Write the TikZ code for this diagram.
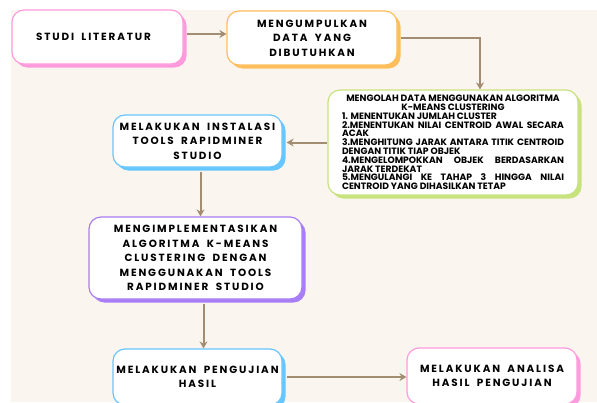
\documentclass[tikz,border=0pt]{standalone}
\usepackage{fontspec}
\setmainfont{Poppins}
\newfontfamily\wideboxfont{Poppins}[LetterSpace=18,WordSpace=1.8]
\newfontfamily\listfont{Poppins}
\usetikzlibrary{arrows.meta,shadows}

\definecolor{bgcream}{HTML}{FAF5EF}
\definecolor{pinkline}{HTML}{FF9BDC}
\definecolor{orangeline}{HTML}{FFBE5C}
\definecolor{greenline}{HTML}{C8E27E}
\definecolor{blueline}{HTML}{66C6FF}
\definecolor{purpleline}{HTML}{A87DF5}
\definecolor{arrowbrown}{HTML}{A38D72}

\tikzset{
  flowbox/.style={draw=#1, line width=1.2pt, fill=white, rounded corners=12pt,
    drop shadow={shadow xshift=3.5pt, shadow yshift=-3.5pt, fill=#1, opacity=1},
    font=\wideboxfont\bfseries\fontsize{10.4}{14.5}\selectfont,
    align=center, inner sep=0pt},
  flowarrow/.style={draw=arrowbrown, line width=2pt,
    -{Stealth[length=7pt,width=8pt]}}
}

\begin{document}
\begin{tikzpicture}[x=1pt, y=-1pt]
   \useasboundingbox (0,0) rectangle (597,402);
   \fill[bgcream] (11,10) rectangle (597,402);

   \begin{scope}
   \clip (0,0) rectangle (597,402);
   \node[flowbox=pinkline, minimum width=171pt, minimum height=54pt] (studi) at (97.5,37) {STUDI LITERATUR\hspace*{8pt}};
   \node[flowbox=orangeline, minimum width=170pt, minimum height=54pt] (kumpul) at (312,38) {MENGUMPULKAN\\DATA YANG\\DIBUTUHKAN};
   \node[flowbox=greenline, minimum width=250pt, minimum height=105pt,
         font=\listfont\bfseries\fontsize{9.2}{8.8}\selectfont, text width=222pt, align=justify] (olah) at (453,142.5)
     {{\centering MENGOLAH DATA MENGGUNAKAN ALGORITMA\\ K-MEANS CLUSTERING\par}
      1. MENENTUKAN JUMLAH CLUSTER\par
      2.MENENTUKAN NILAI CENTROID AWAL SECARA\linebreak ACAK\par
      3.MENGHITUNG JARAK ANTARA TITIK CENTROID\linebreak DENGAN TITIK TIAP OBJEK\par
      4.MENGELOMPOKKAN OBJEK BERDASARKAN\linebreak JARAK TERDEKAT\par
      5.MENGULANGI KE TAHAP 3 HINGGA NILAI\linebreak CENTROID YANG DIHASILKAN TETAP};
   \node[flowbox=blueline, minimum width=169pt, minimum height=52pt] (instal) at (197.5,141) {MELAKUKAN INSTALASI\\TOOLS RAPIDMINER\\STUDIO};
   \node[flowbox=purpleline, minimum width=213pt, minimum height=82pt] (implement) at (195.5,258) {MENGIMPLEMENTASIKAN\\ALGORITMA K-MEANS\\CLUSTERING DENGAN\\MENGGUNAKAN TOOLS\\RAPIDMINER STUDIO};
   \node[flowbox=blueline, minimum width=169pt, minimum height=56pt] (uji) at (197.5,377) {MELAKUKAN PENGUJIAN\\HASIL};
   \node[flowbox=pinkline, minimum width=170pt, minimum height=56pt] (analisa) at (492,376) {MELAKUKAN ANALISA\\HASIL PENGUJIAN};
   \end{scope}

   % connectors
   \draw[flowarrow] ([xshift=3pt,yshift=3pt]studi.east) -- ([yshift=3pt]studi.east -| kumpul.west);
   \draw[flowarrow] ([xshift=3pt]kumpul.east) -| ([xshift=27pt]olah.north);
   \draw[flowarrow] (olah.west) -- ([xshift=4pt]olah.west -| instal.east);
   \draw[flowarrow] ([xshift=3pt,yshift=-4pt]instal.south) -- ([xshift=3pt]instal.south |- implement.north);
   \draw[flowarrow] ([xshift=8pt,yshift=-4pt]implement.south) -- ([xshift=8pt]implement.south |- uji.north);
   \draw[flowarrow] ([xshift=4pt]uji.east) -- (uji.east -| analisa.west);
\end{tikzpicture}
\end{document}
